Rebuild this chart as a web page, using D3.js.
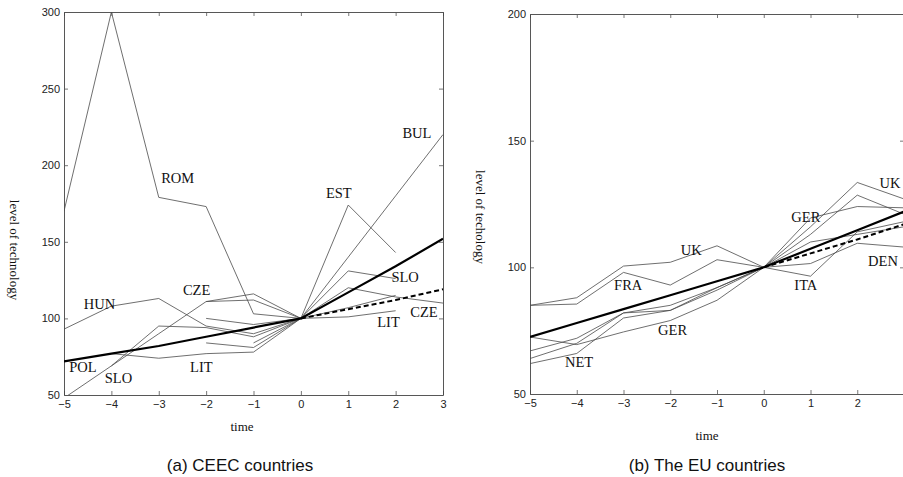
<!DOCTYPE html>
<html><head><meta charset="utf-8">
<script src="https://cdn.jsdelivr.net/npm/d3@7"></script>
<style>body{margin:0;background:#fff}svg{display:block}</style>
</head><body>
<svg id="c" width="903" height="477"></svg>
<script>
// ---------- data ----------
const years = [-5,-4,-3,-2,-1,0,1,2,3];
const xTicksCEEC = [-5,-4,-3,-2,-1,0,1,2,3];
const xTicksEU = [-5,-4,-3,-2,-1,0,1,2];
const yTicksCEEC = [50,100,150,200,250,300];
const yTicksEU = [50,100,150,200];

// CEEC thin series (null = no observation)
const ceecROM  = [170,300,179,173,103,100,null,null,null];
const ceecHUN  = [93,108,113,95,90,100,null,null,null];
const ceecCZE  = [48,69,90,111,116,100,120,114,110];
const ceecCZE2 = [null,null,null,111,112,100,107,115,null];
const ceecSLO  = [null,69,95,94,88,100,131,126,null];
const ceecSLO2 = [null,null,null,100,96,100,null,null,null];
const ceecPOL  = [null,77,74,77,78,100,null,null,null];
const ceecLIT  = [null,null,null,84,81,100,101,105,null];
const ceecBUL  = [null,null,null,null,null,100,140,180,220];
const ceecEST  = [null,null,null,null,84,100,174,143,null];
const ceecTrend = [72,77,82,88,94,100,117,134,152];
const ceecMean  = [null,null,null,null,null,100,106,112,119];

// EU thin series
const euUK  = [85,88,100.5,102,108.5,100,116,133.5,127];
const euFRA = [85,85.5,98,93,103,100,113,128.5,121];
const euGER = [72.5,69.5,74.5,79,87,100,119.5,124,123.5];
const euNET = [62,66,80,83,91,100,101.5,109.5,108];
const euITA = [67,72,82,85,92,100,96.5,114,118];
const euDEN = [64,70,82,83,92,100,110,113,116];
const euTrend = [72.5,78,83.5,89,94.5,100,107.3,114.6,122];
const euMean  = [null,null,null,null,null,100,105.5,111,117];

const ceecLabels = [
  {t:"ROM",x:-2.6,y:178},{t:"BUL",x:2.45,y:133},{t:"EST",x:0.8,y:193},
  {t:"SLO",x:2.2,y:277},{t:"CZE",x:-2.2,y:290},{t:"CZE",x:2.6,y:312},
  {t:"HUN",x:-4.25,y:304},{t:"LIT",x:1.85,y:322},{t:"POL",x:-4.6,y:367},
  {t:"SLO",x:-3.85,y:378},{t:"LIT",x:-2.1,y:367}
];
const euLabels = [
  {t:"UK",x:-1.55,y:250},{t:"FRA",x:-2.9,y:285},{t:"GER",x:-1.95,y:330},
  {t:"NET",x:-3.95,y:362},{t:"GER",x:0.9,y:217},{t:"ITA",x:0.9,y:285},
  {t:"UK",x:2.7,y:183},{t:"DEN",x:2.55,y:261}
];

// ---------- drawing ----------
const svg = d3.select("#c");
const serif = "'Liberation Serif','Times New Roman',serif";
const sans = "'Liberation Sans',Arial,sans-serif";

function panel(cfg){
  const x = d3.scaleLinear().domain([-5,3]).range([cfg.x0,cfg.x1]);
  const y = d3.scaleLinear().domain(cfg.yDomain).range([cfg.y1,cfg.y0]);
  const g = svg.append("g");
  const clipId = "clip"+cfg.id;
  svg.append("clipPath").attr("id",clipId).append("rect")
    .attr("x",cfg.x0).attr("y",cfg.y0).attr("width",cfg.x1-cfg.x0).attr("height",cfg.y1-cfg.y0);

  const ax = (gen,tr)=>{ const a=g.append("g").attr("transform",tr).call(gen);
    a.select(".domain").attr("stroke","#444").attr("stroke-width",0.9);
    a.selectAll(".tick line").attr("stroke","#555").attr("stroke-width",0.8);
    a.selectAll("text").attr("font-family",sans).attr("font-size",11).attr("fill","#222");
    return a;};
  ax(d3.axisBottom(x).tickValues(cfg.xTicks).tickSizeInner(-4).tickSizeOuter(0).tickPadding(5),`translate(0,${cfg.y1})`);
  ax(d3.axisTop(x).tickValues(cfg.xTicks).tickSizeInner(-4).tickSizeOuter(0).tickFormat(""),`translate(0,${cfg.y0})`);
  ax(d3.axisLeft(y).tickValues(cfg.yTicks).tickSizeInner(-4).tickSizeOuter(0).tickPadding(4),`translate(${cfg.x0},0)`);
  ax(d3.axisRight(y).tickValues(cfg.yTicks).tickSizeInner(-4).tickSizeOuter(0).tickFormat(""),`translate(${cfg.x1},0)`);

  const line = d3.line().defined(d=>d[1]!==null).x(d=>x(d[0])).y(d=>y(d[1]));
  const lg = g.append("g").attr("clip-path",`url(#${clipId})`);
  cfg.thin.forEach(s=>{
    lg.append("path").attr("d",line(years.map((t,i)=>[t,s[i]])))
      .attr("fill","none").attr("stroke","#4a4a4a").attr("stroke-width",0.8);
  });
  lg.append("path").attr("d",line(years.map((t,i)=>[t,cfg.mean[i]])))
    .attr("fill","none").attr("stroke","#000").attr("stroke-width",2).attr("stroke-dasharray","5,3");
  lg.append("path").attr("d",line(years.map((t,i)=>[t,cfg.trend[i]])))
    .attr("fill","none").attr("stroke","#000").attr("stroke-width",2.2);

  cfg.labels.forEach(l=>{
    g.append("text").attr("x",x(l.x)).attr("y",l.y).attr("dy","0.35em")
      .attr("text-anchor","middle").attr("font-family",serif).attr("font-size",14.5)
      .attr("fill","#111").text(l.t);
  });
  g.append("text").attr("x",cfg.timeX).attr("y",cfg.timeY).attr("text-anchor","middle")
    .attr("font-family",serif).attr("font-size",13).attr("fill","#111").text("time");
  g.append("text").attr("transform",`translate(${cfg.ylx},${cfg.yly}) rotate(90)`)
    .attr("text-anchor","middle").attr("dy","0.35em")
    .attr("font-family",serif).attr("font-size",13).attr("fill","#111").text(cfg.ylabel);
  g.append("text").attr("x",cfg.capX).attr("y",465).attr("text-anchor","middle").attr("dy","0.35em")
    .attr("font-family",sans).attr("font-size",17).attr("fill","#111").text(cfg.caption);
}

panel({id:"a",x0:64,x1:443,y0:12,y1:395,yDomain:[50,300],yTicks:yTicksCEEC,xTicks:xTicksCEEC,
  thin:[ceecROM,ceecHUN,ceecCZE,ceecCZE2,ceecSLO,ceecSLO2,ceecPOL,ceecLIT,ceecBUL,ceecEST],
  trend:ceecTrend,mean:ceecMean,labels:ceecLabels,
  timeX:242,timeY:431,ylx:15,yly:250,ylabel:"level of technology",
  capX:240,caption:"(a) CEEC countries"});
panel({id:"b",x0:530,x1:904,y0:14,y1:394,yDomain:[50,200],yTicks:yTicksEU,xTicks:xTicksEU,
  thin:[euUK,euFRA,euGER,euNET,euITA,euDEN],
  trend:euTrend,mean:euMean,labels:euLabels,
  timeX:707,timeY:440,ylx:481,yly:217,ylabel:"level of techology",
  capX:707,caption:"(b) The EU countries"});
</script>
</body></html>
